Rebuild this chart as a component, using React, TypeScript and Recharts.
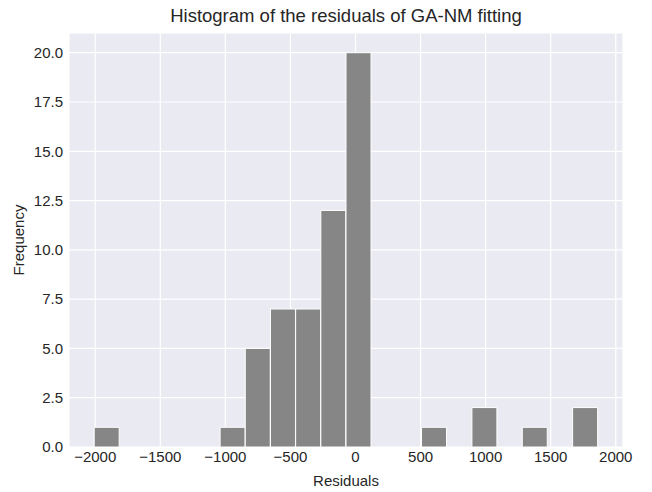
import { Bar, BarChart, CartesianGrid, XAxis, YAxis, Label } from "recharts";

// histogram bins (20 equal bins)
const binStart = -2008;
const binWidth = 193.5;
const counts = [1, 0, 0, 0, 0, 1, 5, 7, 7, 12, 20, 0, 0, 1, 0, 2, 0, 1, 0, 2];
const xTicks = [-2000, -1500, -1000, -500, 0, 500, 1000, 1500, 2000];
const yTicks = [0, 2.5, 5, 7.5, 10, 12.5, 15, 17.5, 20];

const rows = counts.map((c, i) => ({
  center: binStart + binWidth * (i + 0.5),
  count: c,
}));

const FONT = "'Liberation Sans', Arial, sans-serif";
const INK = "#262626";

const fmtX = (v: number) => (v < 0 ? `\u2212${Math.abs(v)}` : `${v}`);

export default function App() {
  const xMin = binStart - binWidth;
  const xMax = binStart + binWidth * (counts.length + 1);
  return (
    <div style={{ position: "absolute", left: 0, top: 0, width: 652, height: 492, background: "#fff", fontFamily: FONT }}>
      <div
        style={{
          position: "absolute",
          top: 5,
          left: 69,
          width: 554,
          textAlign: "center",
          fontSize: 18.5,
          color: INK,
        }}
      >
        Histogram of the residuals of GA-NM fitting
      </div>
      <BarChart
        width={652}
        height={492}
        data={rows}
        barCategoryGap={0}
        margin={{ top: 33, right: 29, bottom: 20, left: 9 }}
      >
        <CartesianGrid fill="#EAEAF2" stroke="#fff" strokeWidth={1.2} />
        <XAxis
          dataKey="center"
          type="number"
          domain={[xMin, xMax]}
          ticks={xTicks}
          allowDataOverflow
          axisLine={false}
          tickLine={false}
          tickSize={0}
          tickMargin={4}
          height={25}
          tickFormatter={fmtX}
          tick={{ fontSize: 15, fill: INK, fontFamily: FONT }}
        >
          <Label value="Residuals" position="insideBottom" offset={-14} style={{ fontSize: 15, fill: INK, fontFamily: FONT }} />
        </XAxis>
        <YAxis
          domain={[0, 21]}
          ticks={yTicks}
          axisLine={false}
          tickLine={false}
          tickSize={0}
          tickMargin={6}
          width={60}
          tickFormatter={(v: number) => v.toFixed(1)}
          tick={{ fontSize: 15, fill: INK, fontFamily: FONT }}
        >
          <Label value="Frequency" angle={-90} position="insideLeft" offset={10} style={{ fontSize: 15, fill: INK, fontFamily: FONT, textAnchor: "middle" }} />
        </YAxis>
        <Bar dataKey="count" fill="#868686" stroke="#fff" strokeWidth={1} isAnimationActive={false} />
      </BarChart>
    </div>
  );
}
